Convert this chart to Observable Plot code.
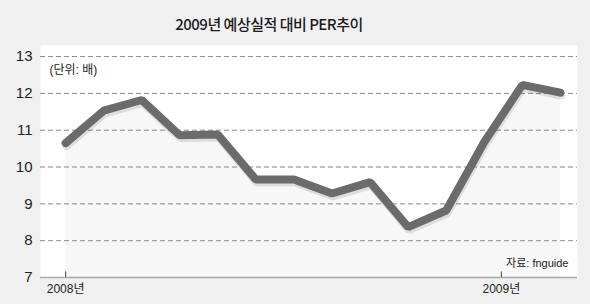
<!DOCTYPE html>
<html><head><meta charset="utf-8">
<script src="https://cdn.jsdelivr.net/npm/d3@7"></script>
<script src="https://cdn.jsdelivr.net/npm/@observablehq/plot@0.6"></script>
<style>
body{margin:0;background:#f0f0f0;}
#wrap{width:590px;height:304px;background:#f0f0f0;position:relative;overflow:hidden;font-family:"Liberation Sans","Noto Sans CJK KR",sans-serif;}
#title{position:absolute;left:0;width:538px;top:13px;text-align:center;font-size:15px;letter-spacing:-0.5px;color:#1a1a1a;font-family:"Noto Sans CJK KR",sans-serif;font-weight:500;}
#chart{position:absolute;left:0;top:40px;}
</style></head><body>
<div id="wrap"><div id="title">2009년 예상실적 대비 PER추이</div><div id="chart"></div></div>
<script>
// data
const periodIndex = [0,1,2,3,4,5,6,7,8,9,10,11,12,13];
const perValues = [10.65, 11.53, 11.82, 10.86, 10.88, 9.66, 9.66, 9.28, 9.59, 8.37, 8.82, 10.68, 12.23, 12.02];
const xTickPositions = [0, 11.45];
const xTickLabels = ["2008년", "2009년"];
const yTicks = [7, 8, 9, 10, 11, 12, 13];
const gridValues = [8, 9, 10, 11, 12, 13];
const unitLabel = "(단위: 배)";
const sourceLabel = "자료: fnguide";

const data = periodIndex.map((x, i) => ({x, y: perValues[i]}));
const font = '"Liberation Sans","Noto Sans CJK KR",sans-serif';

const chart = Plot.plot({
  width: 590,
  height: 264,
  marginLeft: 40,
  marginRight: 13,
  marginTop: 5,
  marginBottom: 27,
  style: {background: "transparent", fontFamily: font, color: "#222", overflow: "visible"},
  x: {domain: [-0.66, 13.45], axis: null},
  y: {domain: [7, 13.3], axis: null},
  marks: [
    Plot.frame({fill: "white"}),
    Plot.areaY(data, {x: "x", y: "y", y1: 7, fill: "#000", fillOpacity: 0.03}),
    Plot.ruleY(gridValues, {stroke: "#8a8a8a", strokeDasharray: "5,3", strokeWidth: 1}),
    Plot.ruleY([7], {stroke: "#a8a8a8", strokeWidth: 1.5}),
    Plot.axisY({ticks: yTicks, tickFormat: d => String(d), tickSize: 0, tickPadding: 8, fontSize: 15, fill: "#222", label: null}),
    Plot.axisX({ticks: xTickPositions, tickFormat: d => xTickLabels[xTickPositions.indexOf(d)], tickSize: 0, tickPadding: 7, fontSize: 12, fill: "#222", label: null}),
    Plot.ruleX(xTickPositions, {y1: 7, y2: 7.15, stroke: "#444", strokeWidth: 1}),
    Plot.line(data, {x: "x", y: "y", stroke: "#000", strokeOpacity: 0.1, strokeWidth: 8, dx: 1, dy: 3, strokeLinecap: "round", strokeLinejoin: "miter"}),
    Plot.line(data, {x: "x", y: "y", stroke: "#6b6b6b", strokeWidth: 8, strokeLinecap: "round", strokeLinejoin: "miter"}),
    Plot.text([unitLabel], {frameAnchor: "top-left", dx: 9, dy: 25, lineAnchor: "middle", textAnchor: "start", fontSize: 12, fill: "#222"}),
    Plot.text([sourceLabel], {frameAnchor: "bottom-right", dx: -9, dy: -14, lineAnchor: "middle", textAnchor: "end", fontSize: 11, fill: "#222"})
  ]
});
document.getElementById("chart").appendChild(chart);
</script>
</body></html>
